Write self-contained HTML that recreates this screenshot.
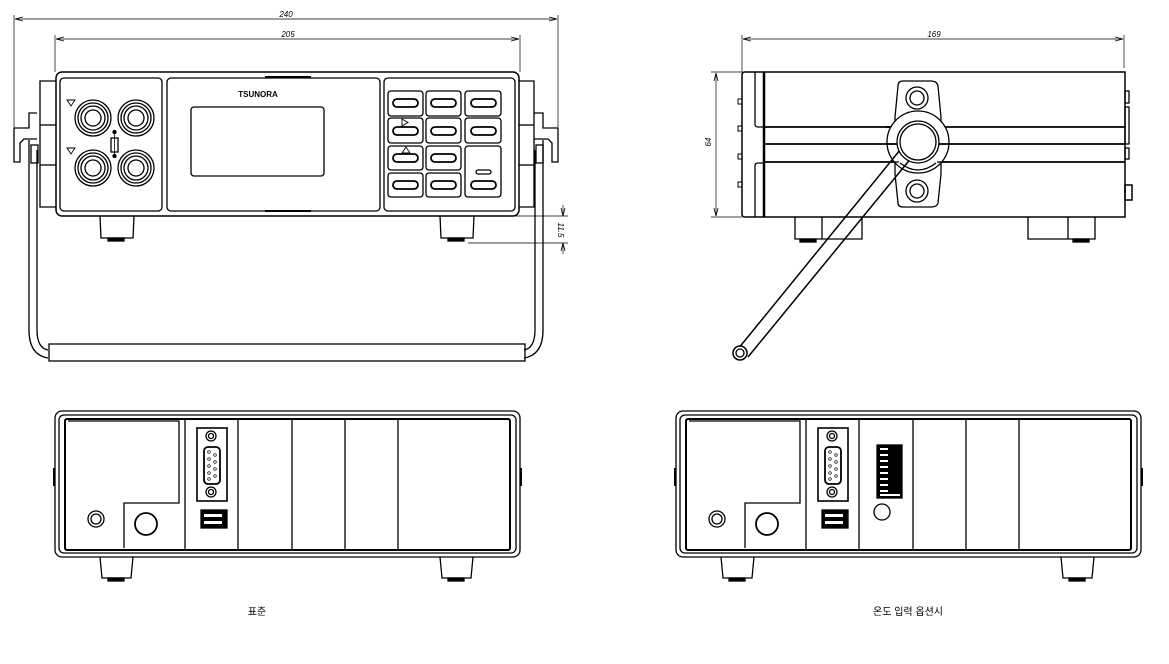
<!DOCTYPE html>
<html><head><meta charset="utf-8"><style>
html,body{margin:0;padding:0;background:#fff}
svg{display:block}
text{font-family:"Liberation Sans","Noto Sans CJK KR",sans-serif}
</style></head><body>
<svg width="1169" height="664" viewBox="0 0 1169 664" xmlns="http://www.w3.org/2000/svg" fill="none" stroke="#000" stroke-width="1.3">
<defs>
<marker id="a" markerWidth="8" markerHeight="6" refX="8" refY="3" orient="auto-start-reverse" markerUnits="userSpaceOnUse"><path d="M0,1 L8,3 L0,5" stroke="#000" stroke-width="0.8" fill="none"/></marker>
<g id="rear">
 <rect x="55" y="411" width="465" height="146" rx="7"/>
 <rect x="59" y="415" width="457" height="138" rx="5"/>
 <rect x="65" y="419" width="445" height="131" rx="2" stroke-width="2"/>
 <path d="M68,421 H179 V503 H124 V548"/>
 <circle cx="96" cy="519" r="8"/><circle cx="96" cy="519" r="5"/>
 <circle cx="146" cy="524" r="11" stroke-width="1.8"/>
 <line x1="185" y1="420" x2="185" y2="550"/>
 <line x1="238" y1="420" x2="238" y2="550"/>
 <line x1="292" y1="420" x2="292" y2="550"/>
 <line x1="345" y1="420" x2="345" y2="550"/>
 <line x1="398" y1="420" x2="398" y2="550"/>
 <rect x="197" y="428" width="30" height="73" stroke-width="1.6"/>
 <circle cx="211" cy="436" r="5"/><circle cx="211" cy="436" r="2.5"/>
 <circle cx="211" cy="492" r="5"/><circle cx="211" cy="492" r="2.5"/>
 <rect x="204" y="447" width="16" height="37" rx="4" stroke-width="1.8"/>
 <g stroke-width="0.7"><circle cx="209" cy="452" r="1.3"/><circle cx="209" cy="459" r="1.3"/><circle cx="209" cy="466" r="1.3"/><circle cx="209" cy="473" r="1.3"/><circle cx="209" cy="479" r="1.3"/><circle cx="215" cy="455" r="1.3"/><circle cx="215" cy="462" r="1.3"/><circle cx="215" cy="469" r="1.3"/><circle cx="215" cy="476" r="1.3"/></g>
 <rect x="201" y="510" width="26" height="18" fill="#000"/>
 <rect x="204" y="514" width="18" height="3" fill="#fff" stroke="none"/>
 <rect x="204" y="521" width="18" height="3" fill="#fff" stroke="none"/>
 <line x1="54" y1="468" x2="54" y2="486" stroke-width="2"/>
 <line x1="521" y1="468" x2="521" y2="486" stroke-width="2"/>
 <path d="M100,557 L102,578 H131 L133,557" /><rect x="108" y="578" width="16" height="3" fill="#000"/>
 <path d="M440,557 L442,578 H471 L473,557" /><rect x="448" y="578" width="16" height="3" fill="#000"/>
</g>
</defs>

<!-- FRONT VIEW -->
<g stroke-width="0.7">
 <line x1="14" y1="15" x2="14" y2="128"/><line x1="558" y1="15" x2="558" y2="160"/>
 <line x1="15" y1="19" x2="557" y2="19" marker-start="url(#a)" marker-end="url(#a)"/>
 <line x1="55" y1="35" x2="55" y2="72"/><line x1="520" y1="35" x2="520" y2="72"/>
 <line x1="56" y1="39" x2="519" y2="39" marker-start="url(#a)" marker-end="url(#a)"/>
 <line x1="468" y1="216" x2="568" y2="216"/><line x1="468" y1="243" x2="568" y2="243"/>
 <line x1="563" y1="205" x2="563" y2="216" marker-end="url(#a)"/>
 <line x1="563" y1="254" x2="563" y2="243" marker-end="url(#a)"/>
</g>
<text x="286" y="17" font-size="8" font-style="italic" stroke="none" fill="#000" text-anchor="middle">240</text>
<text x="288" y="37" font-size="8" font-style="italic" stroke="none" fill="#000" text-anchor="middle">205</text>
<text x="558" y="230" font-size="8" font-style="italic" stroke="none" fill="#000" text-anchor="middle" transform="rotate(90 558 230)">11.5</text>

<!-- side brackets -->
<path d="M56,81 H40 V207 H56"/><line x1="40" y1="125" x2="56" y2="125"/><line x1="40" y1="165" x2="56" y2="165"/>
<path d="M519,81 H534 V207 H519"/><line x1="519" y1="125" x2="534" y2="125"/><line x1="519" y1="165" x2="534" y2="165"/>
<path d="M14,128 H29 V113 H37 M14,128 V162 H20 V143 L24,139 H37"/>
<path d="M558,128 H543 V113 H534 M558,128 V162 H552 V143 L548,139 H534"/>
<!-- handle -->
<path d="M29,140 V330 Q29,355 48,358"/><path d="M37,150 V330 Q37,348 48,350"/>
<path d="M543,140 V330 Q543,355 524,358"/><path d="M535,150 V330 Q535,348 524,350"/>
<rect x="31" y="145" width="7" height="18"/><rect x="536" y="145" width="7" height="18"/>
<rect x="49" y="344" width="476" height="17"/>
<!-- body -->
<rect x="56" y="72" width="463" height="144" rx="6" stroke-width="1.5"/>
<rect x="60" y="78" width="102" height="133" rx="4"/>
<rect x="167" y="78" width="213" height="133" rx="4"/>
<rect x="384" y="78" width="131" height="133" rx="4"/>
<line x1="265" y1="77" x2="311" y2="77" stroke-width="2"/>
<line x1="265" y1="211" x2="311" y2="211" stroke-width="2"/>
<text x="258" y="97" font-size="8" font-weight="bold" stroke="none" fill="#000" text-anchor="middle">TSUNORA</text>
<rect x="191" y="107" width="133" height="69" rx="3"/>
<g>
 <path d="M67,100 h8 l-4,6 z" stroke-width="0.9"/><path d="M67,148 h8 l-4,6 z" stroke-width="0.9"/>
 <g id="jk"><circle cx="93" cy="118" r="18"/><circle cx="93" cy="118" r="15"/><circle cx="93" cy="118" r="12"/><circle cx="93" cy="118" r="8"/></g>
 <use href="#jk" x="43"/><use href="#jk" y="50"/><use href="#jk" x="43" y="50"/>
 <rect x="111" y="138" width="7" height="14"/>
 <line x1="114.5" y1="132" x2="114.5" y2="158" stroke-width="0.8"/>
 <circle cx="114.5" cy="132" r="1.5" fill="#000"/><circle cx="114.5" cy="156" r="1.5" fill="#000"/>
</g>
<!-- keypad -->
<g>
 <rect x="388" y="91" width="35" height="25" rx="3"/><rect x="426" y="91" width="35" height="25" rx="3"/><rect x="465" y="91" width="36" height="25" rx="3"/>
 <rect x="388" y="118" width="35" height="25" rx="3"/><rect x="426" y="118" width="35" height="25" rx="3"/><rect x="465" y="118" width="36" height="25" rx="3"/>
 <rect x="388" y="146" width="35" height="24" rx="3"/><rect x="426" y="146" width="35" height="24" rx="3"/><rect x="465" y="146" width="36" height="51" rx="3"/>
 <rect x="388" y="173" width="35" height="24" rx="3"/><rect x="426" y="173" width="35" height="24" rx="3"/>
 <g stroke-width="1.8">
 <rect x="393" y="99" width="25" height="8" rx="4"/><rect x="431" y="99" width="25" height="8" rx="4"/><rect x="471" y="99" width="25" height="8" rx="4"/>
 <rect x="393" y="127" width="25" height="8" rx="4"/><rect x="431" y="127" width="25" height="8" rx="4"/><rect x="471" y="127" width="25" height="8" rx="4"/>
 <rect x="393" y="154" width="25" height="8" rx="4"/><rect x="431" y="154" width="25" height="8" rx="4"/>
 <rect x="393" y="181" width="25" height="8" rx="4"/><rect x="431" y="181" width="25" height="8" rx="4"/><rect x="471" y="181" width="25" height="8" rx="4"/>
 </g>
 <rect x="476" y="170" width="15" height="4" rx="2"/>
 <path d="M402,119 l6,3.5 l-6,3.5 z" stroke-width="0.9"/><path d="M402,153 l4,-6 l4,6 z" stroke-width="0.9"/>
</g>
<path d="M100,216 L101,238 H133 L134,216"/><rect x="108" y="238" width="16" height="3" fill="#000"/>
<path d="M440,216 L441,238 H473 L474,216"/><rect x="448" y="238" width="16" height="3" fill="#000"/>

<!-- SIDE VIEW -->
<g stroke-width="0.7">
 <line x1="742" y1="35" x2="742" y2="72"/><line x1="1124" y1="35" x2="1124" y2="68"/>
 <line x1="743" y1="39" x2="1123" y2="39" marker-start="url(#a)" marker-end="url(#a)"/>
 <line x1="711" y1="72" x2="742" y2="72"/><line x1="711" y1="217" x2="742" y2="217"/>
 <line x1="716" y1="73" x2="716" y2="216" marker-start="url(#a)" marker-end="url(#a)"/>
</g>
<text x="934" y="37" font-size="8" font-style="italic" stroke="none" fill="#000" text-anchor="middle">169</text>
<text x="711" y="142" font-size="8" font-style="italic" stroke="none" fill="#000" text-anchor="middle" transform="rotate(-90 711 142)">64</text>
<path d="M745,72 H1125 V217 H745 Q742,217 742,214 V75 Q742,72 745,72 Z" stroke-width="1.5"/>
<path d="M755,72 V124 Q755,127 758,127 H765 M755,217 V166 Q755,163 758,163 H765"/>
<line x1="764" y1="72" x2="764" y2="217" stroke-width="2.5"/>
<line x1="764" y1="127" x2="1125" y2="127" stroke-width="1.8"/>
<line x1="764" y1="144" x2="1125" y2="144" stroke-width="1.8"/>
<line x1="764" y1="162" x2="1125" y2="162" stroke-width="1.8"/>
<g stroke-width="1"><path d="M742,99 h-4 v5 h4"/><path d="M742,126 h-4 v5 h4"/><path d="M742,154 h-4 v5 h4"/><path d="M742,182 h-4 v5 h4"/></g>
<rect x="1125" y="91" width="4" height="12"/><rect x="1125" y="107" width="4" height="37"/><rect x="1125" y="148" width="4" height="11"/><rect x="1125" y="185" width="7" height="15" stroke-width="1.5"/>
<!-- feet side -->
<path d="M795,217 V239 H822 V217 M822,239 H862 V217"/><rect x="800" y="239" width="16" height="3" fill="#000"/>
<path d="M1028,217 V239 H1068 V217 M1068,239 H1095 V217"/><rect x="1073" y="239" width="16" height="3" fill="#000"/>
<!-- mount plate -->
<path d="M903,81 H931 Q937,81 938,86 L941,117 V174 L938,203 Q937,207 931,207 H903 Q898,207 898,203 L895,174 V117 L898,86 Q898,81 903,81 Z" fill="#fff"/>
<circle cx="917" cy="98" r="11"/><circle cx="917" cy="98" r="7"/>
<circle cx="917" cy="191" r="11"/><circle cx="917" cy="191" r="7"/>
<circle cx="918" cy="142" r="31" fill="#fff"/>
<path d="M887,142 H1125 M887,144" stroke="none"/>
<line x1="886" y1="144" x2="899" y2="144" stroke-width="1.8"/><line x1="937" y1="144" x2="950" y2="144" stroke-width="1.8"/>
<line x1="886" y1="127" x2="890" y2="127" stroke-width="1.8"/>
<line x1="886" y1="162" x2="899" y2="162"/><line x1="937" y1="162" x2="950" y2="162"/>
<path d="M900,163 Q918,177 936,163"/>
<!-- handle arm -->
<path d="M900,150 L738,349 M912,157 L748,357" stroke-width="1.5"/>
<line x1="900" y1="150" x2="912" y2="157" stroke="#fff" stroke-width="3"/>
<circle cx="918" cy="142" r="21" fill="#fff"/><circle cx="918" cy="142" r="18"/>
<circle cx="740" cy="353" r="7" fill="#fff" stroke-width="1.5"/><circle cx="740" cy="353" r="4"/>

<!-- REAR VIEWS -->
<use href="#rear"/>
<use href="#rear" x="621"/>
<rect x="877" y="445" width="25" height="53" fill="#000"/>
<g fill="#fff" stroke="none">
 <rect x="880" y="448" width="8" height="2"/><rect x="880" y="454" width="8" height="2"/><rect x="880" y="460" width="8" height="2"/><rect x="880" y="466" width="8" height="2"/><rect x="880" y="472" width="8" height="2"/><rect x="880" y="478" width="8" height="2"/><rect x="880" y="484" width="8" height="2"/><rect x="880" y="490" width="8" height="2"/>
 <rect x="880" y="494" width="20" height="2"/>
</g>
<circle cx="882" cy="512" r="8"/>

<text x="257" y="615" font-size="10" stroke="none" fill="#000" text-anchor="middle">표준</text>
<text x="908" y="615" font-size="10" stroke="none" fill="#000" text-anchor="middle">온도 입력 옵션시</text>
</svg>
</body></html>
